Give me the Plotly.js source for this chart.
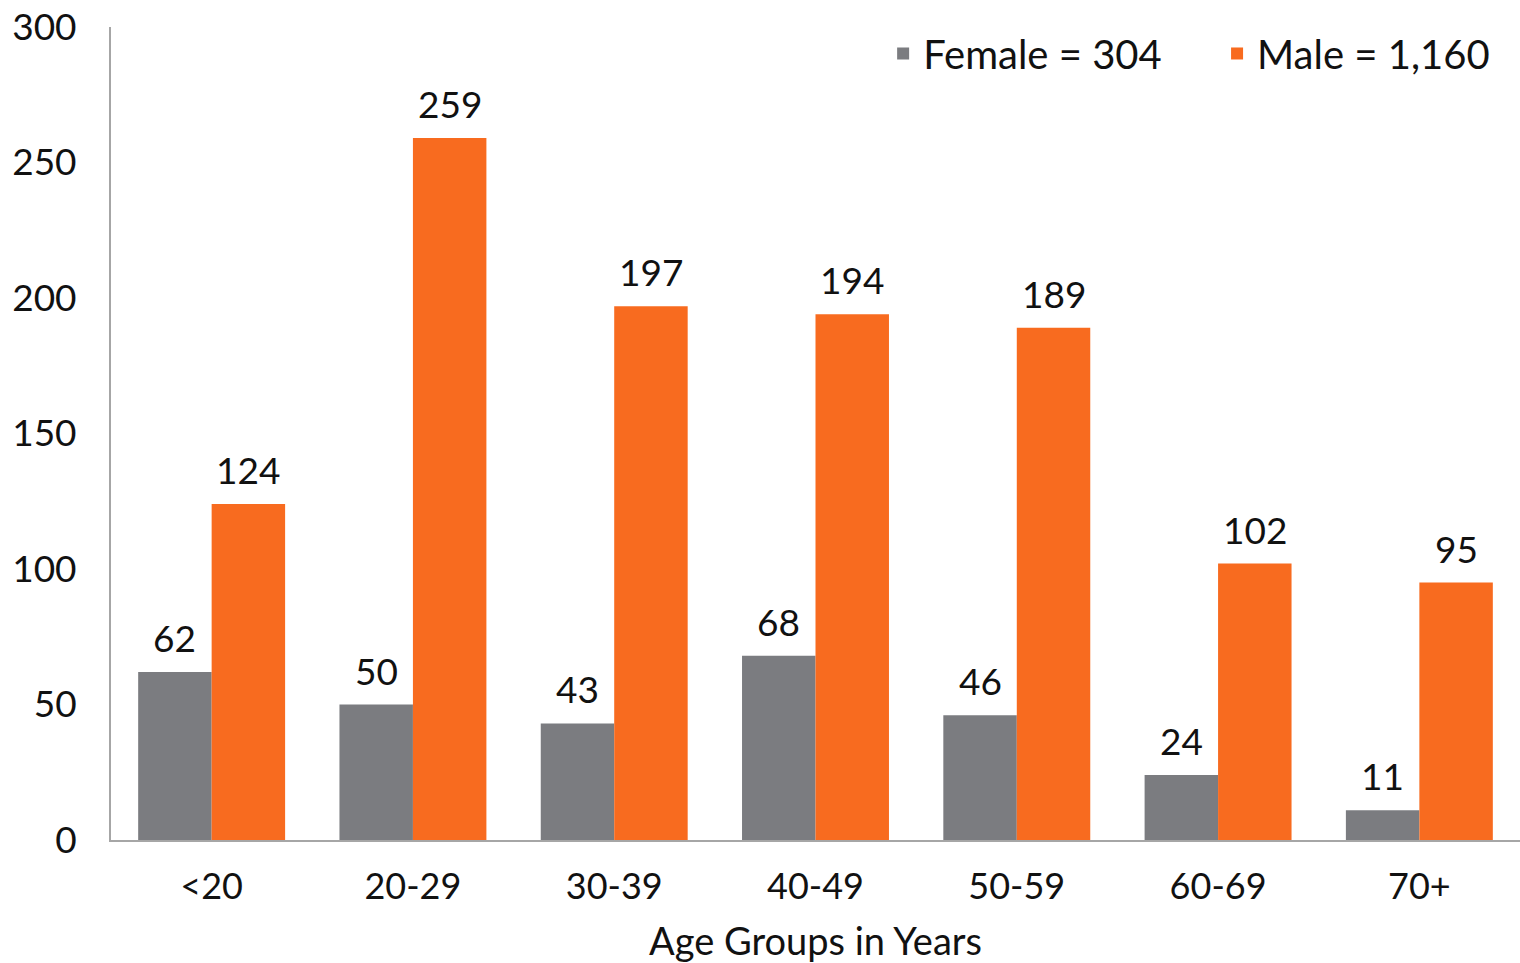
<!DOCTYPE html>
<html>
<head>
<meta charset="utf-8">
<script src="https://cdn.plot.ly/plotly-3.0.1.min.js"></script>
<style>
html,body{margin:0;padding:0;background:#fff;}
#chart{width:1520px;height:963px;}
</style>
</head>
<body>
<div id="chart"></div>
<script>
const categories = ["<20", "20-29", "30-39", "40-49", "50-59", "60-69", "70+"];
const femaleValues = [62, 50, 43, 68, 46, 24, 11];
const maleValues = [124, 259, 197, 194, 189, 102, 95];
const femaleName = "Female = 304";
const maleName = "Male = 1,160";
const yTicks = [0, 50, 100, 150, 200, 250, 300];

const FONT = "Lato, 'Open Sans', sans-serif";
const BARGAP = 0.27;
const TXT = "#111";

const traces = [
  {type: "bar", name: femaleName, x: categories, y: femaleValues, marker: {color: "#7b7c80"}, legend: "legend"},
  {type: "bar", name: maleName, x: categories, y: maleValues, marker: {color: "#f86b1f"}, legend: "legend2"}
];

// value labels, placed through the axes: offset of each bar within its group
const half = (1 - BARGAP) / 4;
const annotations = [];
categories.forEach((c, i) => {
  annotations.push({x: i - half, y: femaleValues[i], xref: "x", yref: "y", text: String(femaleValues[i]),
    showarrow: false, yanchor: "bottom", yshift: 10, font: {family: FONT, size: 37, color: TXT}});
  annotations.push({x: i + half, y: maleValues[i], xref: "x", yref: "y", text: String(maleValues[i]),
    showarrow: false, yanchor: "bottom", yshift: 10, font: {family: FONT, size: 37, color: TXT}});
});

const legendBase = {
  orientation: "h", xanchor: "left",
  y: 1.0074, yanchor: "top", font: {family: FONT, size: 40, color: TXT},
  itemwidth: 30, bgcolor: "rgba(0,0,0,0)"
};

const layout = {
  width: 1520, height: 963,
  margin: {l: 111, r: 0, t: 27, b: 123},
  paper_bgcolor: "#fff", plot_bgcolor: "#fff",
  font: {family: FONT, size: 37, color: TXT},
  barmode: "group", bargap: BARGAP, bargroupgap: 0,
  showlegend: true,
  legend: Object.assign({}, legendBase, {x: 0.548}),
  legend2: Object.assign({}, legendBase, {x: 0.785}),
  annotations: annotations,
  xaxis: {
    type: "category", range: [-0.5, categories.length - 0.5],
    showline: true, linecolor: "#a6a6a6", linewidth: 2,
    ticks: "outside", ticklen: 14, tickcolor: "rgba(0,0,0,0)",
    showgrid: false, zeroline: false,
    tickfont: {family: FONT, size: 36, color: TXT},
    title: {text: "Age Groups in Years", font: {family: FONT, size: 38, color: TXT}, standoff: 32},
    automargin: false
  },
  yaxis: {
    range: [0, 300], tickvals: yTicks, ticktext: yTicks.map(String),
    showline: true, linecolor: "#a6a6a6", linewidth: 2,
    ticks: "outside", ticklen: 25, tickcolor: "rgba(0,0,0,0)",
    showgrid: false, zeroline: false,
    tickfont: {family: FONT, size: 37, color: TXT},
    automargin: false
  }
};

Plotly.newPlot("chart", traces, layout, {displayModeBar: false, staticPlot: true});
</script>
</body>
</html>
